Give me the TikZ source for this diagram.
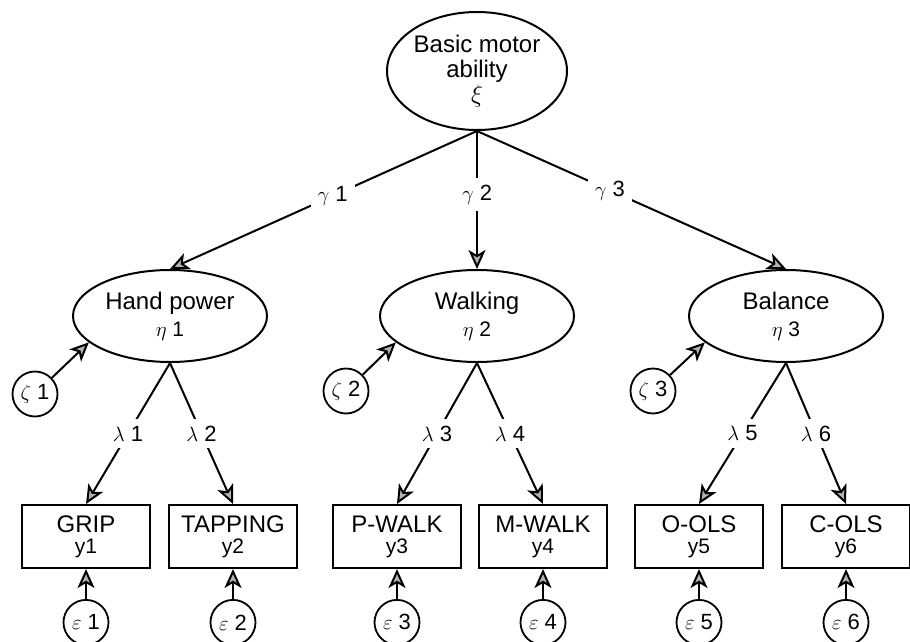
\documentclass[tikz,border=0pt]{standalone}
\usepackage{fontspec}
\setmainfont{Liberation Sans}
\usepackage{tikz}
\usetikzlibrary{positioning,arrows.meta,shapes.geometric}
\newcommand{\lowline}[1]{{\fontsize{21}{21}\selectfont #1}}
\tikzset{
  node-factor/.style={draw,ellipse,line width=2pt,minimum width=194pt,
    minimum height=92pt,inner sep=0pt,align=center,
    font=\fontsize{24}{27}\selectfont},
  node-top/.style={node-factor,minimum width=180pt,minimum height=118pt,
    font=\fontsize{24}{25}\selectfont},
  node-obs/.style={draw,rectangle,line width=2pt,minimum width=128pt,
    minimum height=63pt,inner sep=0pt,align=center,
    font=\fontsize{24}{21}\selectfont},
  node-err/.style={draw,circle,line width=1.8pt,minimum size=45pt,
    inner sep=0pt,font=\fontsize{22}{24}\selectfont},
  node-coef/.style={fill=white,inner sep=7pt,font=\fontsize{22}{24}\selectfont},
  arrow/.style={-{Stealth[length=19pt,width=17pt,inset=5pt,fill=gray!60]},
    line width=2pt},
}

\begin{document}
\begin{tikzpicture}[x=1pt,y=-1pt,node distance=30pt]
  \useasboundingbox (0,0) rectangle (910,642);
  % latent factors
  \node[node-top] (motor) at (477,71) {Basic motor\\ability\\$\xi$};
  \node[node-factor] (hand) at (170,316) {Hand power\\\lowline{$\eta$\ 1}};
  \node[node-factor] (walk) at (477,316) {Walking\\\lowline{$\eta$\ 2}};
  \node[node-factor] (bal) at (786,316) {Balance\\\lowline{$\eta$\ 3}};
  % disturbances
  \node[node-err] (zeta1) at (35,394) {$\zeta$\ 1};
  \node[node-err] (zeta2) at (346,391) {$\zeta$\ 2};
  \node[node-err] (zeta3) at (653,391) {$\zeta$\ 3};
  % observed variables
  \node[node-obs] (grip) at (86,536.5) {GRIP\\\lowline{y1}};
  \node[node-obs] (tap) at (233,536.5) {TAPPING\\\lowline{y2}};
  \node[node-obs] (pwalk) at (397,536.5) {P-WALK\\\lowline{y3}};
  \node[node-obs] (mwalk) at (543,536.5) {M-WALK\\\lowline{y4}};
  \node[node-obs] (ools) at (699,536.5) {O-OLS\\\lowline{y5}};
  \node[node-obs] (cols) at (846,536.5) {C-OLS\\\lowline{y6}};
  % measurement errors
  \node[node-err,below=of grip] (eps1) {$\varepsilon$\ 1};
  \node[node-err,below=of tap] (eps2) {$\varepsilon$\ 2};
  \node[node-err,below=of pwalk] (eps3) {$\varepsilon$\ 3};
  \node[node-err,below=of mwalk] (eps4) {$\varepsilon$\ 4};
  \node[node-err,below=of ools] (eps5) {$\varepsilon$\ 5};
  \node[node-err,below=of cols] (eps6) {$\varepsilon$\ 6};

  \draw[arrow] (motor.south) -- node[node-coef,pos=0.47]{$\gamma$\ 1} (hand.north);
  \draw[arrow] (motor.south) -- node[node-coef,pos=0.46]{$\gamma$\ 2} (walk.north);
  \draw[arrow] (motor.south) -- node[node-coef,pos=0.43]{$\gamma$\ 3} (bal.north);

  \draw[arrow] (hand.south) -- node[node-coef]{$\lambda$\ 1} (grip.north);
  \draw[arrow] (hand.south) -- node[node-coef]{$\lambda$\ 2} (tap.north);
  \draw[arrow] (walk.south) -- node[node-coef]{$\lambda$\ 3} (pwalk.north);
  \draw[arrow] (walk.south) -- node[node-coef]{$\lambda$\ 4} (mwalk.north);
  \draw[arrow] (bal.south) -- node[node-coef]{$\lambda$\ 5} (ools.north);
  \draw[arrow] (bal.south) -- node[node-coef]{$\lambda$\ 6} (cols.north);

  \draw[arrow] (zeta1) -- (hand.198);
  \draw[arrow] (zeta2) -- (walk.198);
  \draw[arrow] (zeta3) -- (bal.198);

  \draw[arrow] (eps1) -- (grip);
  \draw[arrow] (eps2) -- (tap);
  \draw[arrow] (eps3) -- (pwalk);
  \draw[arrow] (eps4) -- (mwalk);
  \draw[arrow] (eps5) -- (ools);
  \draw[arrow] (eps6) -- (cols);
\end{tikzpicture}
\end{document}
